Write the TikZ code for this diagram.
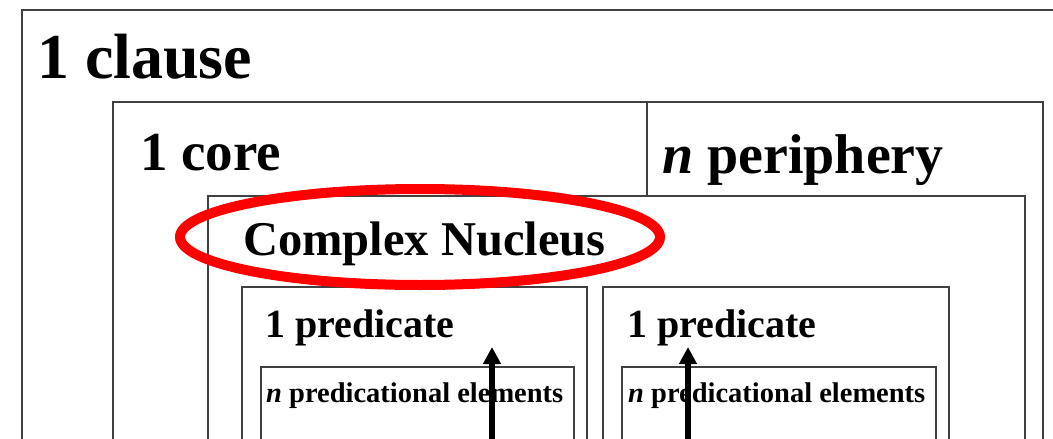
\documentclass[tikz,border=0pt]{standalone}
\usepackage{fontspec}
\setmainfont{Liberation Serif}
\usetikzlibrary{arrows.meta}

\begin{document}
\begin{tikzpicture}[x=1pt, y=-1pt,
    box/.style={draw=black!75, line width=1.2pt},
    lbl/.style={anchor=base west, inner sep=0pt, font=\bfseries},
    up/.style={-{Triangle[width=17pt,length=17pt]}, line width=6pt}]
    \useasboundingbox (0,0) rectangle (1053,439);
    % Boxes
    \draw[box] (22,10) rectangle (1075,470);
    \draw[box] (113,102) rectangle (1043,470);
    \draw[box] (647,102) -- (647,196);
    \draw[box] (208,196) rectangle (1025,470);
    \draw[box] (242,287) rectangle (587,470);
    \draw[box] (603,287) rectangle (949,470);
    \draw[box] (261,367) rectangle (574,470);
    \draw[box] (622,367) rectangle (936,470);
    % Labels
    \node[lbl, font=\bfseries\fontsize{64}{70}\selectfont] (clause) at (37,78) {1 clause};
    \node[lbl, font=\bfseries\fontsize{55}{60}\selectfont] (core) at (140,170) {1 core};
    \node[lbl, font=\bfseries\fontsize{56}{60}\selectfont] (periphery) at (662,173) {\textit{n} periphery};
    \node[lbl, font=\bfseries\fontsize{48.5}{54}\selectfont] (nucleus) at (243,255) {Complex Nucleus};
    \node[lbl, font=\bfseries\fontsize{40}{44}\selectfont] (predA) at (265,337) {1 predicate};
    \node[lbl, font=\bfseries\fontsize{40}{44}\selectfont] (predB) at (627,337) {1 predicate};
    \node[lbl, font=\bfseries\fontsize{28.5}{32}\selectfont] (elemsA) at (266,402) {\textit{n} predicational elements};
    \node[lbl, font=\bfseries\fontsize{28.5}{32}\selectfont] (elemsB) at (628,402) {\textit{n} predicational elements};
    % Highlight
    \draw[red, line width=10pt] (420,237) ellipse [x radius=240pt, y radius=48pt];
    % Arrows
    \coordinate (fromA) at (492,460);
    \coordinate (toA) at (492,347);
    \coordinate (fromB) at (688,460);
    \coordinate (toB) at (688,347);
    \draw[up] (fromA) -- (toA);
    \draw[up] (fromB) -- (toB);
\end{tikzpicture}
\end{document}
